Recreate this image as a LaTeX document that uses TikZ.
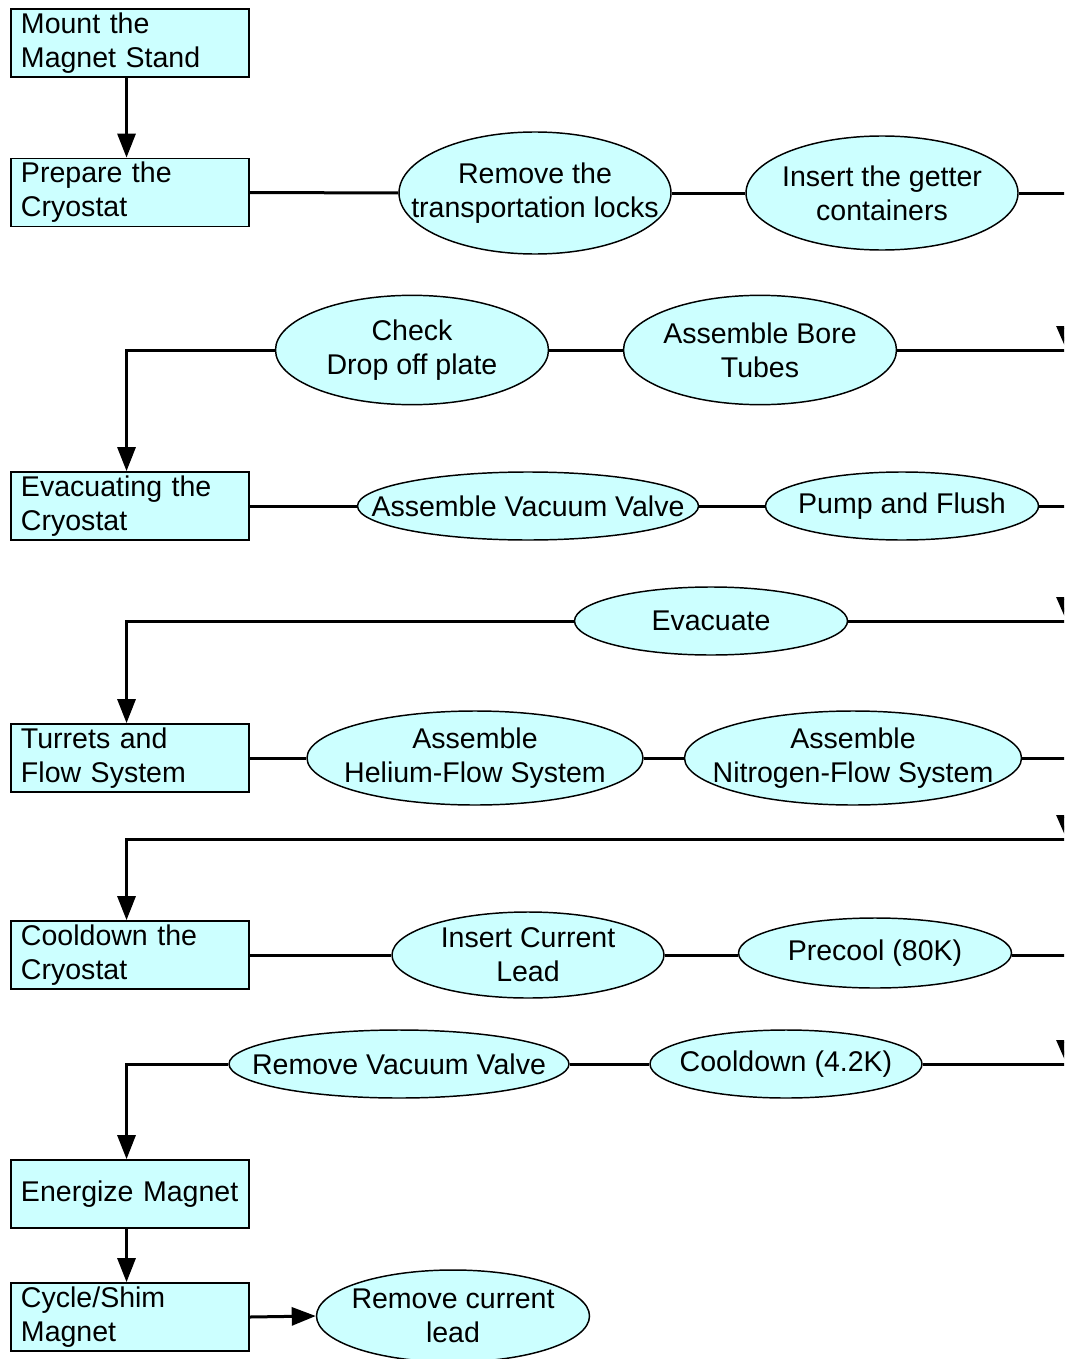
\documentclass[tikz,border=0pt]{standalone}
\usepackage{fontspec}
\setmainfont{Liberation Sans}
\usetikzlibrary{arrows.meta,shapes.geometric}
\definecolor{fillc}{HTML}{CCFFFF}
\begin{document}
\begin{tikzpicture}[x=0.75pt,y=-0.75pt,
  every node/.style={font=\fontsize{21.4pt}{25.5pt}\selectfont},
  stepbox/.style={draw, line width=1.3pt, fill=fillc, rectangle, minimum width=178.5pt, minimum height=51pt,
     text width=163.5pt, inner xsep=7.5pt, inner ysep=0pt, align=left},
  oval/.style={draw, line width=1.1pt, fill=fillc, ellipse, inner sep=0pt},
  lbl/.style={align=center, inner sep=0pt},
  conn/.style={line width=2.25pt},
  arr/.style={line width=2.25pt, -{Triangle[length=18pt,width=13.5pt]}},
  edgearr/.style={line width=2.25pt, -{Triangle[length=18pt,width=15pt]}}
]
\path[use as bounding box] (0,0) rectangle (1064,1359);
\clip (0,0) rectangle (1064,1359);

% boxes
\node[stepbox] (b1) at (130,43) {Mount the\\Magnet Stand};
\node[stepbox] (b2) at (130,192.5) {Prepare the\\Cryostat};
\node[stepbox] (b3) at (130,506) {Evacuating the\\Cryostat};
\node[stepbox] (b4) at (130,758) {Turrets and\\Flow System};
\node[stepbox] (b5) at (130,955) {Cooldown the\\Cryostat};
\node[stepbox] (b6) at (130,1194) {Energize Magnet};
\node[stepbox] (b7) at (130,1317) {Cycle/Shim\\Magnet};

% ellipses
\node[oval, minimum width=204pt, minimum height=91.5pt] (e1) at (535,193) {};
\node[oval, minimum width=204pt, minimum height=85.5pt] (e2) at (882,193) {};
\node[oval, minimum width=204.75pt, minimum height=82pt] (e3) at (412,350) {};
\node[oval, minimum width=204.75pt, minimum height=82pt] (e4) at (760,350) {};
\node[oval, minimum width=255.75pt, minimum height=51pt] (e5) at (528,506) {};
\node[oval, minimum width=204.75pt, minimum height=51pt] (e6) at (902,506) {};
\node[oval, minimum width=204.75pt, minimum height=51pt] (e7) at (711,621) {};
\node[oval, minimum width=252pt, minimum height=70.5pt] (e8) at (475,758) {};
\node[oval, minimum width=252.75pt, minimum height=70.5pt] (e9) at (853,758) {};
\node[oval, minimum width=204pt, minimum height=64.5pt] (e10) at (528,955) {};
\node[oval, minimum width=204.75pt, minimum height=52.5pt] (e11) at (875,953) {};
\node[oval, minimum width=255pt, minimum height=51pt] (e12) at (399,1064) {};
\node[oval, minimum width=204pt, minimum height=51pt] (e13) at (786,1064) {};
\node[oval, minimum width=204.75pt, minimum height=69pt] (e14) at (453,1316) {};

% ellipse texts
\node[lbl] (t1) at (535,193) {Remove the\\transportation locks};
\node[lbl] (t2) at (882,193) {Insert the getter\\containers};
\node[lbl] (t3) at (412,350) {Check\\Drop off plate};
\node[lbl] (t4) at (760,350) {Assemble Bore\\Tubes};
\node[lbl] (t5) at (528,506) {Assemble Vacuum Valve};
\node[lbl] (t6) at (902,506) {Pump and Flush};
\node[lbl] (t7) at (711,621) {Evacuate};
\node[lbl] (t8) at (475,758) {Assemble\\Helium-Flow System};
\node[lbl] (t9) at (853,758) {Assemble\\Nitrogen-Flow System};
\node[lbl] (t10) at (528,955) {Insert Current\\Lead};
\node[lbl] (t11) at (875,953) {Precool (80K)};
\node[lbl] (t12) at (399,1064) {Remove Vacuum Valve};
\node[lbl] (t13) at (786,1064) {Cooldown (4.2K)};
\node[lbl] (t14) at (453,1316) {Remove current\\lead};

% right-edge turn points (outside the visible area)
\coordinate (r1) at (1066.5,193);
\coordinate (r2) at (1066.5,350);
\coordinate (r3) at (1066.5,506);
\coordinate (r4) at (1066.5,621);
\coordinate (r5) at (1066.5,758);
\coordinate (r6) at (1066.5,839);
\coordinate (r7) at (1066.5,955);
\coordinate (r8) at (1066.5,1064);

% connectors
\draw[arr] ([xshift=-2.6pt]b1.south) -- ([xshift=-2.6pt]b2.north);

\draw[conn] (b2.east) -- (e1.west);
\draw[conn] (e1.east) -- (e2.west);
\draw[conn] (e2.east) -- (r1);
\draw[edgearr] (r1) -- (r2);
\draw[conn] (r2) -- (e4.east);
\draw[conn] (e4.west) -- (e3.east);
\draw[arr] (e3.west) -| ([xshift=-2.6pt]b3.north);

\draw[conn] (b3.east) -- (e5.west);
\draw[conn] (e5.east) -- (e6.west);
\draw[conn] (e6.east) -- (r3);
\draw[edgearr] (r3) -- (r4);
\draw[conn] (r4) -- (e7.east);
\draw[arr] (e7.west) -| ([xshift=-2.6pt]b4.north);

\draw[conn] (b4.east) -- (e8.west);
\draw[conn] (e8.east) -- (e9.west);
\draw[conn] (e9.east) -- (r5);
\draw[edgearr] (r5) -- (r6);
\draw[arr] (r6) -| ([xshift=-2.6pt]b5.north);

\draw[conn] (b5.east) -- (e10.west);
\draw[conn] (e10.east) -- ([yshift=-1.5pt]e11.west);
\draw[conn] ([yshift=-1.5pt]e11.east) -- (r7);
\draw[edgearr] (r7) -- (r8);
\draw[conn] (r8) -- (e13.east);
\draw[conn] (e13.west) -- (e12.east);
\draw[arr] (e12.west) -| ([xshift=-2.6pt]b6.north);

\draw[arr] ([xshift=-2.6pt]b6.south) -- ([xshift=-2.6pt]b7.north);
\draw[arr] (b7.east) -- (e14.west);
\end{tikzpicture}
\end{document}
